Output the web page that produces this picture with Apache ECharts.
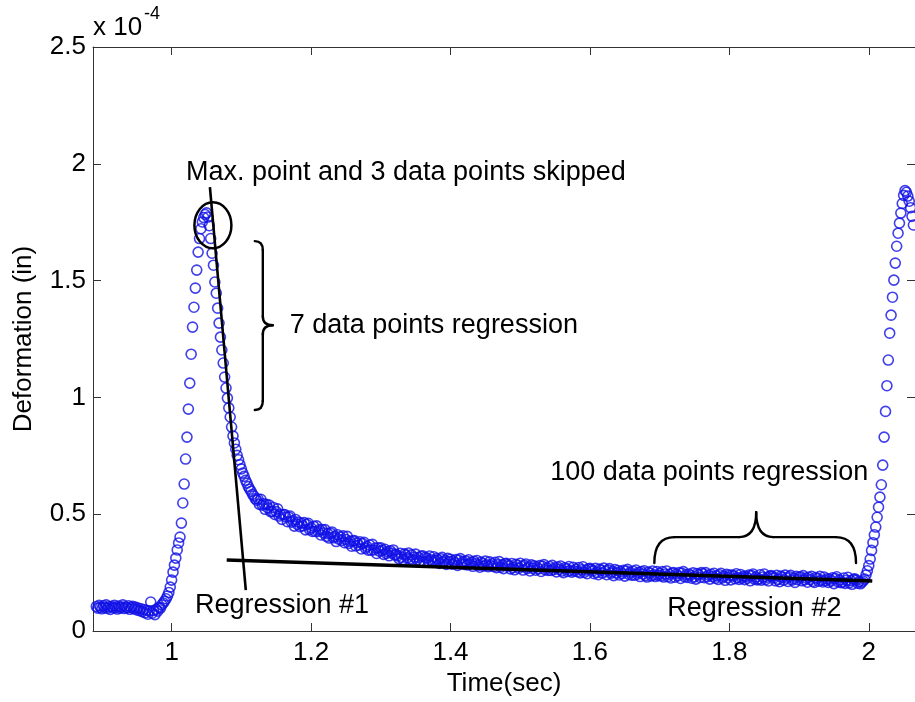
<!DOCTYPE html>
<html>
<head>
<meta charset="utf-8">
<title>Deformation vs Time</title>
<script src="https://cdn.jsdelivr.net/npm/echarts@6/dist/echarts.min.js"></script>
<style>
  html, body { margin: 0; padding: 0; background: #ffffff; }
  #chart { width: 915px; height: 702px; }
</style>
</head>
<body>
<div id="chart"></div>
<script>
// Sampling clock of the displacement record
const t0 = 0.892;   // s, first sample
const dt = 0.002;   // s, 500 Hz

// Deformation readings, in units of 1e-4 in, in sample order
const preLoad = [
  0.105, 0.098, 0.110, 0.102, 0.095, 0.108, 0.100, 0.112, 0.097, 0.104,
  0.092, 0.106, 0.099, 0.110, 0.101, 0.094, 0.107, 0.098, 0.103, 0.112,
  0.096, 0.104, 0.099, 0.108, 0.093, 0.101, 0.106, 0.095, 0.102, 0.090,
  0.098, 0.087, 0.095, 0.083, 0.092, 0.078, 0.089, 0.072, 0.086, 0.124,
  0.076, 0.088, 0.070, 0.093, 0.085, 0.101, 0.098
];
const loadRise = [
  0.112, 0.120, 0.128, 0.138, 0.150, 0.165, 0.188, 0.218, 0.252, 0.282,
  0.312, 0.347, 0.377, 0.402, 0.462, 0.548, 0.629, 0.736, 0.830, 0.950,
  1.061, 1.185, 1.301, 1.386, 1.468, 1.545, 1.622
];
const peak = [1.680, 1.722, 1.751, 1.770, 1.783, 1.790, 1.772, 1.735, 1.680];
const fastDecay = [
  1.617, 1.566, 1.494, 1.446, 1.382, 1.318, 1.258, 1.203, 1.147, 1.087,
  1.040, 0.997, 0.955, 0.916, 0.873, 0.835, 0.805, 0.778, 0.752, 0.733,
  0.712, 0.694, 0.676, 0.662, 0.645, 0.633, 0.618, 0.607, 0.598, 0.585,
  0.578, 0.566, 0.560
];
const slowDecay = [
  0.565, 0.542, 0.564, 0.539, 0.545, 0.521, 0.542, 0.527, 0.539, 0.511,
  0.511, 0.529, 0.499, 0.511, 0.523, 0.492, 0.500, 0.478, 0.499, 0.499,
  0.488, 0.468, 0.488, 0.492, 0.466, 0.472, 0.449, 0.477, 0.457, 0.466,
  0.447, 0.461, 0.450, 0.464, 0.433, 0.456, 0.461, 0.434, 0.442, 0.426,
  0.448, 0.426, 0.450, 0.426, 0.434, 0.411, 0.434, 0.420, 0.434, 0.405,
  0.417, 0.398, 0.419, 0.424, 0.399, 0.405, 0.383, 0.412, 0.393, 0.403,
  0.388, 0.407, 0.378, 0.392, 0.405, 0.375, 0.384, 0.363, 0.386, 0.387,
  0.364, 0.378, 0.367, 0.382, 0.351, 0.374, 0.380, 0.354, 0.362, 0.346,
  0.368, 0.346, 0.371, 0.347, 0.355, 0.332, 0.356, 0.342, 0.356
];
const creep = [
  0.345, 0.328, 0.350, 0.332, 0.340, 0.322, 0.343, 0.333, 0.347, 0.326,
  0.328, 0.322, 0.310, 0.333, 0.316, 0.306, 0.330, 0.325, 0.313, 0.334,
  0.308, 0.326, 0.303, 0.316, 0.329, 0.305, 0.315, 0.299, 0.320, 0.322,
  0.295, 0.316, 0.311, 0.300, 0.321, 0.305, 0.297, 0.318, 0.302, 0.310,
  0.304, 0.289, 0.309, 0.315, 0.295, 0.302, 0.285, 0.311, 0.297, 0.307,
  0.286, 0.300, 0.292, 0.306, 0.281, 0.303, 0.310, 0.288, 0.297, 0.285,
  0.300, 0.283, 0.305, 0.287, 0.295, 0.277, 0.298, 0.288, 0.302, 0.281,
  0.273, 0.294, 0.289, 0.278, 0.299, 0.283, 0.275, 0.296, 0.280, 0.288,
  0.276, 0.294, 0.271, 0.284, 0.297, 0.273, 0.283, 0.267, 0.288, 0.290,
  0.284, 0.278, 0.266, 0.289, 0.272, 0.262, 0.286, 0.281, 0.269, 0.290,
  0.276, 0.261, 0.281, 0.287, 0.267, 0.274, 0.257, 0.283, 0.269, 0.279,
  0.260, 0.274, 0.266, 0.280, 0.255, 0.277, 0.284, 0.262, 0.271, 0.259,
  0.276, 0.259, 0.281, 0.263, 0.271, 0.253, 0.274, 0.264, 0.278, 0.257,
  0.250, 0.271, 0.266, 0.255, 0.276, 0.260, 0.252, 0.273, 0.257, 0.265,
  0.254, 0.272, 0.249, 0.262, 0.275, 0.251, 0.261, 0.245, 0.266, 0.268,
  0.263, 0.257, 0.245, 0.268, 0.251, 0.241, 0.265, 0.260, 0.248, 0.269,
  0.256, 0.241, 0.261, 0.267, 0.247, 0.254, 0.237, 0.263, 0.249, 0.259,
  0.240, 0.254, 0.246, 0.260, 0.235, 0.257, 0.264, 0.242, 0.251, 0.239,
  0.256, 0.239, 0.261, 0.243, 0.251, 0.233, 0.254, 0.244, 0.258, 0.237,
  0.231, 0.252, 0.247, 0.236, 0.257, 0.241, 0.233, 0.254, 0.238, 0.246
];
const plateau = [
  0.236, 0.254, 0.231, 0.244, 0.257, 0.233, 0.243, 0.227, 0.248, 0.250,
  0.230, 0.244, 0.236, 0.250, 0.225, 0.247, 0.254, 0.232, 0.241, 0.229,
  0.244, 0.238, 0.226, 0.249, 0.232, 0.222, 0.246, 0.241, 0.229, 0.250,
  0.245, 0.228, 0.250, 0.232, 0.240, 0.222, 0.243, 0.233, 0.247, 0.226,
  0.236, 0.221, 0.241, 0.247, 0.227, 0.234, 0.217, 0.243, 0.229, 0.239,
  0.219, 0.240, 0.235, 0.224, 0.245, 0.229, 0.221, 0.242, 0.226, 0.234,
  0.220, 0.234, 0.226, 0.240, 0.215, 0.237, 0.244, 0.222, 0.231, 0.219,
  0.223, 0.241, 0.218, 0.231, 0.244, 0.220, 0.230, 0.214, 0.235, 0.237,
  0.233, 0.227, 0.215, 0.238, 0.221, 0.211, 0.235, 0.230, 0.218, 0.239,
  0.227, 0.212, 0.232, 0.238, 0.218, 0.225, 0.208, 0.234, 0.220, 0.230,
  0.232, 0.215, 0.237, 0.219, 0.227, 0.209, 0.230, 0.220, 0.234, 0.213,
  0.208, 0.229, 0.224, 0.213, 0.234, 0.218, 0.210, 0.231, 0.215, 0.223,
  0.208, 0.222, 0.214, 0.228, 0.203, 0.225, 0.232, 0.210, 0.219, 0.207,
  0.209, 0.227, 0.204, 0.217, 0.230, 0.206, 0.216, 0.200, 0.221, 0.223,
  0.218, 0.205, 0.212, 0.202, 0.209, 0.214
];
const reload = [
  0.222, 0.240, 0.258, 0.280, 0.308, 0.345, 0.378, 0.412, 0.445, 0.487,
  0.530, 0.573, 0.626, 0.710, 0.830, 0.940, 1.050, 1.160, 1.275, 1.352,
  1.429, 1.502, 1.575, 1.647, 1.703, 1.746, 1.789, 1.830, 1.865, 1.885,
  1.878, 1.862, 1.840, 1.812, 1.775, 1.738
];

// Fitted regression lines, [time, deformation (1e-4 in)] end points
const regression1 = [[1.0549, 1.900], [1.1064, 0.175]];
const regression2 = [[1.0790, 0.304], [2.0050, 0.214]];

// Axis ranges and tick labels
const X_MIN = 0.8872, X_MAX = 2.0663;
const Y_MIN = 0, Y_MAX = 2.5;
const xTicks = [1, 1.2, 1.4, 1.6, 1.8, 2];
const yTicks = [0, 0.5, 1, 1.5, 2, 2.5];

const deformation = [].concat(preLoad, loadRise, peak, fastDecay, slowDecay, creep, plateau, reload);
const points = deformation.map((v, i) => [+(t0 + i * dt).toFixed(3), v]);

const FONT = '"Liberation Sans", Arial, Helvetica, sans-serif';
const AXIS_COLOR = '#333333';
const MARKER_COLOR = '#1010e6';

function frameAxis(kind, position, showLabels, extra) {
  const ticks = kind === 'x' ? xTicks : yTicks;
  return Object.assign({
    type: 'value',
    position: position,
    min: kind === 'x' ? X_MIN : Y_MIN,
    max: kind === 'x' ? X_MAX : Y_MAX,
    axisLine: { show: true, onZero: false, lineStyle: { color: AXIS_COLOR, width: 1 } },
    axisTick: { show: true, inside: true, length: 8, customValues: ticks, lineStyle: { color: AXIS_COLOR, width: 1 } },
    axisLabel: {
      show: showLabels, customValues: ticks, color: '#000', fontSize: 26,
      fontFamily: FONT, margin: kind === 'x' ? 9 : 7
    },
    splitLine: { show: false }
  }, extra || {});
}

const chart = echarts.init(document.getElementById('chart'), null, { renderer: 'canvas' });

chart.setOption({
  animation: false,
  backgroundColor: '#ffffff',
  grid: { left: 93, right: -1, top: 47, bottom: 71, show: false },
  xAxis: [
    frameAxis('x', 'bottom', true, {
      name: 'Time(sec)', nameLocation: 'middle', nameGap: 38,
      nameTextStyle: { color: '#000', fontSize: 26, fontFamily: FONT }
    }),
    frameAxis('x', 'top', false)
  ],
  yAxis: [
    frameAxis('y', 'left', true, {
      name: 'Deformation (in)', nameLocation: 'middle', nameGap: 56,
      nameTextStyle: { color: '#000', fontSize: 26, fontFamily: FONT }
    }),
    frameAxis('y', 'right', false)
  ],
  series: [
    {
      type: 'scatter',
      data: points,
      symbol: 'circle',
      symbolSize: 10,
      itemStyle: { color: 'rgba(0,0,0,0)', borderColor: MARKER_COLOR, borderWidth: 1.6 },
      clip: true,
      silent: true,
      z: 2
    },
    {
      type: 'line', data: regression1, symbol: 'none', silent: true, z: 3,
      lineStyle: { color: '#000', width: 2.6 }
    },
    {
      type: 'line', data: regression2, symbol: 'none', silent: true, z: 3,
      lineStyle: { color: '#000', width: 3.4 }
    }
  ]
});

// Annotations, anchored in data coordinates
const px = (p) => chart.convertToPixel({ xAxisIndex: 0, yAxisIndex: 0 }, p);

const maxCircle = { center: [1.0592, 1.737], rx: 18.5, ry: 23 };
const notes = [
  { text: 'Max. point and 3 data points skipped', at: [1.0205, 1.964], align: 'left' },
  { text: '7 data points regression', at: [1.1694, 1.309], align: 'left' },
  { text: '100 data points regression', at: [1.7712, 0.680], align: 'center' },
  { text: 'Regression #1', at: [1.0334, 0.111], align: 'left' },
  { text: 'Regression #2', at: [1.7110, 0.098], align: 'left' }
];
const shortBrace = { x: 1.1193, top: 1.669, bottom: 0.946, tip: [1.1451, 1.309] };
const longBrace = { left: 1.6924, right: 1.9817, ends: 0.291, bar: 0.402, tip: [1.8385, 0.509] };

const STROKE = { fill: null, stroke: '#000', lineWidth: 2.4, lineCap: 'round' };
const curve = (x1, y1, cx, cy, x2, y2) => ({
  type: 'bezierCurve', silent: true, z: 10,
  shape: { x1: x1, y1: y1, cpx1: cx, cpy1: cy, x2: x2, y2: y2 },
  style: STROKE
});
const segment = (x1, y1, x2, y2) => ({
  type: 'line', silent: true, z: 10,
  shape: { x1: x1, y1: y1, x2: x2, y2: y2 },
  style: STROKE
});

// Vertical curly brace opening to the left, tip to the right
function shortBraceParts(b) {
  const a = px([b.x, b.top]), c = px([b.x, b.bottom]), t = px(b.tip);
  const s = a[0] + 8;
  return [
    curve(a[0], a[1], s, a[1], s, a[1] + 9),
    segment(s, a[1] + 9, s, t[1] - 9),
    curve(s, t[1] - 9, s, t[1], t[0], t[1]),
    curve(t[0], t[1], s, t[1], s, t[1] + 9),
    segment(s, t[1] + 9, s, c[1] - 9),
    curve(s, c[1] - 9, s, c[1], a[0], c[1])
  ];
}
// Horizontal curly brace opening downwards, tip upwards
function longBraceParts(b) {
  const l = px([b.left, b.ends]), r = px([b.right, b.ends]);
  const y = px([b.left, b.bar])[1], t = px(b.tip);
  return [
    curve(l[0], l[1], l[0], y, l[0] + 20, y),
    segment(l[0] + 20, y, t[0] - 17, y),
    curve(t[0] - 17, y, t[0], y, t[0], t[1]),
    curve(t[0], t[1], t[0], y, t[0] + 17, y),
    segment(t[0] + 17, y, r[0] - 20, y),
    curve(r[0] - 20, y, r[0], y, r[0], r[1])
  ];
}

const corner = px([X_MIN, Y_MAX]);
const cc = px(maxCircle.center);
const graphics = [
  {
    type: 'ellipse', silent: true, z: 10,
    shape: { cx: cc[0], cy: cc[1], rx: maxCircle.rx, ry: maxCircle.ry },
    style: { fill: null, stroke: '#000', lineWidth: 2.5 }
  },
  {
    type: 'text', silent: true, z: 10, x: corner[0], y: corner[1] - 19,
    style: { text: 'x 10', fontSize: 26, fontFamily: FONT, fill: '#000', align: 'left', verticalAlign: 'middle' }
  },
  {
    type: 'text', silent: true, z: 10, x: corner[0] + 51, y: corner[1] - 33,
    style: { text: '-4', fontSize: 18, fontFamily: FONT, fill: '#000', align: 'left', verticalAlign: 'middle' }
  }
].concat(shortBraceParts(shortBrace), longBraceParts(longBrace), notes.map(n => {
  const p = px(n.at);
  return {
    type: 'text', silent: true, z: 10, x: p[0], y: p[1],
    style: { text: n.text, fontSize: 27, fontFamily: FONT, fill: '#000', align: n.align, verticalAlign: 'middle' }
  };
}));

chart.setOption({ graphic: graphics });
</script>
</body>
</html>
